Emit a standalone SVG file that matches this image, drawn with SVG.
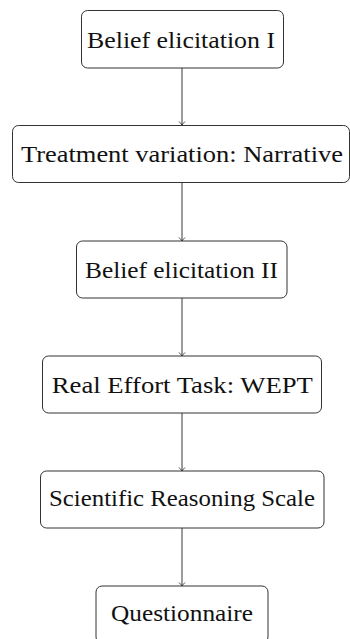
<svg xmlns="http://www.w3.org/2000/svg" width="350" height="639" viewBox="0 0 350 639">
<style>
.box{fill:#fff;stroke:#333;stroke-width:1}
.lbl{font-family:"Liberation Serif","DejaVu Serif",serif;font-size:23.5px;fill:#111;text-anchor:middle}
.edge{stroke:#222;stroke-width:0.9;fill:none}
</style>
<defs>
<marker id="tip" viewBox="-5 -4 6 8" markerWidth="6" markerHeight="8" refX="0" refY="0" orient="auto" markerUnits="userSpaceOnUse">
<path d="M-3.5,-3 Q-1,-0.6 0,0 Q-1,0.6 -3.5,3" fill="none" stroke="#222" stroke-width="0.8"/>
</marker>
</defs>
<rect width="350" height="639" fill="#fff"/>
<g id="connectors">
<line class="edge" x1="182" y1="68" x2="182" y2="125" marker-end="url(#tip)"/>
<line class="edge" x1="182" y1="182" x2="182" y2="241" marker-end="url(#tip)"/>
<line class="edge" x1="182" y1="298" x2="182" y2="356" marker-end="url(#tip)"/>
<line class="edge" x1="182" y1="413" x2="182" y2="471" marker-end="url(#tip)"/>
<line class="edge" x1="182" y1="528" x2="182" y2="586" marker-end="url(#tip)"/>
</g>
<g id="n1">
<rect class="box" x="81.5" y="10.5" width="202" height="57.5" rx="6"/>
<text class="lbl" x="181" y="48.3" textLength="188" lengthAdjust="spacingAndGlyphs">Belief elicitation I</text>
</g>
<g id="n2">
<rect class="box" x="12.5" y="125.5" width="337" height="57" rx="6"/>
<text class="lbl" x="182" y="161.7" textLength="322" lengthAdjust="spacingAndGlyphs">Treatment variation: Narrative</text>
</g>
<g id="n3">
<rect class="box" x="76.5" y="241" width="210.5" height="57" rx="6"/>
<text class="lbl" x="181.5" y="278.3" textLength="193" lengthAdjust="spacingAndGlyphs">Belief elicitation II</text>
</g>
<g id="n4">
<rect class="box" x="42.5" y="356" width="279" height="57" rx="6"/>
<text class="lbl" x="182.3" y="393.3" textLength="261" lengthAdjust="spacingAndGlyphs">Real Effort Task: WEPT</text>
</g>
<g id="n5">
<rect class="box" x="40.5" y="471" width="283.5" height="57" rx="6"/>
<text class="lbl" x="182" y="506" textLength="266" lengthAdjust="spacingAndGlyphs">Scientific Reasoning Scale</text>
</g>
<g id="n6">
<rect class="box" x="96" y="586" width="172" height="57" rx="6"/>
<text class="lbl" x="182" y="621" textLength="142" lengthAdjust="spacingAndGlyphs">Questionnaire</text>
</g>
</svg>
